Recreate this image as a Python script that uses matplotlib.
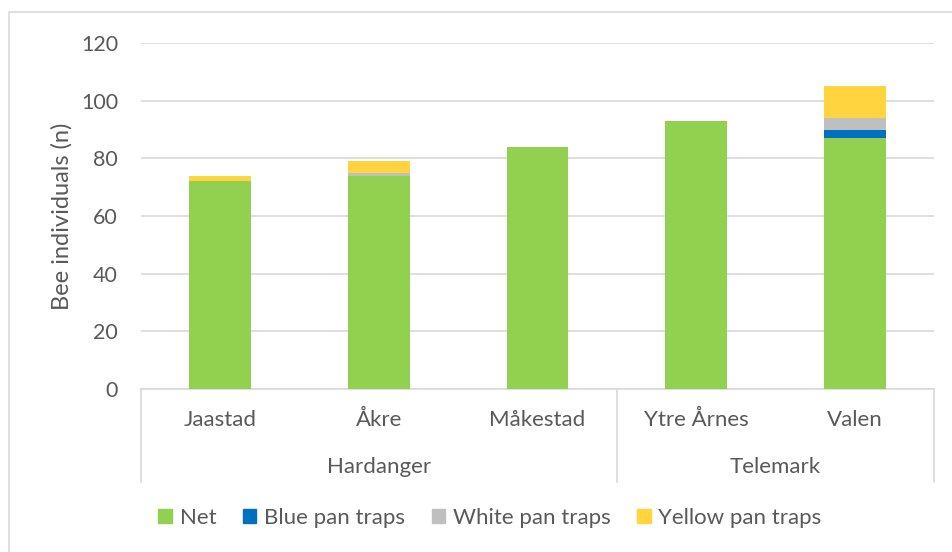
import numpy as np
import matplotlib.pyplot as plt
from matplotlib.patches import Patch

plt.rcParams['font.family'] = ['Lato', 'DejaVu Sans']

sites = ["Jaastad", "Åkre", "Måkestad", "Ytre Årnes", "Valen"]
regions = ["Hardanger", "Telemark"]
region_sizes = [3, 2]

net = [72, 74, 84, 93, 87]
blue = [0, 0, 0, 0, 3]
white = [0, 1, 0, 0, 4]
yellow = [2, 4, 0, 0, 11]

series = [("Net", net, "#92D050"),
          ("Blue pan traps", blue, "#0070C0"),
          ("White pan traps", white, "#BFBFBF"),
          ("Yellow pan traps", yellow, "#FFD43F")]

txt = "#595959"
grid = "#D9D9D9"

fig = plt.figure(figsize=(9.53, 5.52), dpi=100)
ax = fig.add_axes([141/953, 1-389/552, (934-141)/953, (389-43)/552])

x = np.arange(len(sites))
bottom = np.zeros(len(sites))
for name, vals, col in series:
    ax.bar(x, vals, 0.39, bottom=bottom, color=col, label=name, zorder=3)
    bottom += np.array(vals)

ax.set_xlim(-0.5, len(sites) - 0.5)
ax.set_ylim(0, 120)
ax.set_yticks(range(0, 121, 20))
ax.yaxis.grid(True, color=grid, linewidth=1.2, zorder=0)
ax.tick_params(axis='y', length=0, pad=16.5, labelsize=15.5, labelcolor=txt)
ax.set_xticks([])
for s in ["top", "right", "left"]:
    ax.spines[s].set_visible(False)
ax.spines["bottom"].set_color(grid)
ax.spines["bottom"].set_linewidth(1.2)
ax.set_ylabel("Bee individuals (n)", fontsize=17, color=txt, labelpad=6)

# two-level category axis below the plot
tr = ax.get_xaxis_transform()
for i, s in enumerate(sites):
    ax.text(i, -0.09, s, transform=tr, ha="center", va="center",
            fontsize=16, color=txt)
edges = np.concatenate([[0], np.cumsum(region_sizes)]) - 0.5
for lo, hi, r in zip(edges[:-1], edges[1:], regions):
    ax.text((lo + hi) / 2, -0.225, r, transform=tr, ha="center",
            va="center", fontsize=16, color=txt)
for e in edges:
    ax.plot([e, e], [0, -0.27], transform=tr, color=grid, lw=1.2,
            clip_on=False)

handles = [Patch(color=c, label=n) for n, v, c in series]
fig.legend(handles=handles, loc="center", bbox_to_anchor=(490/953, 1-518/552),
           ncol=4, frameon=False, fontsize=16, labelcolor=txt,
           handlelength=0.6, handleheight=0.6, handletextpad=0.35,
           columnspacing=1.2)

# chart frame
fig.patches.append(plt.Rectangle((9/953, -0.01), 1.0, 1 - 12/552 + 0.01,
                                 transform=fig.transFigure, fill=False,
                                 edgecolor=grid, lw=1.2))

fig.savefig("out.png", dpi=100)
